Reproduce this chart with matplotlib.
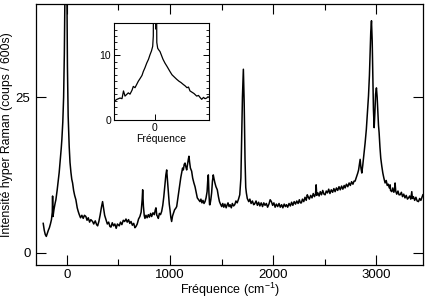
import matplotlib
matplotlib.use("Agg")
import matplotlib.pyplot as plt
from matplotlib.ticker import MultipleLocator

plt.rcParams['font.family'] = ['Liberation Sans', 'DejaVu Sans']
plt.rcParams['mathtext.fontset'] = 'custom'
plt.rcParams['mathtext.rm'] = 'Liberation Sans'

freq = [-230,-220,-210,-200,-190,-180,-170,-160,-150,-142,-139,-135,-125,-115,-107,-95,-85,-75,-65,-55,-49,-40,-32,-25,-20,-15,-10,-5,0,5,12,22,30,39,47,55,65,75,87,100,110,120,132,145,158,170,184,195,207,220,232,249,260,275,288,298,310,322,335,346,355,366,379,392,405,417,427,440,452,465,478,490,508,520,533,547,560,573,585,598,610,622,635,648,660,670,682,695,708,720,730,735,742,750,757,767,778,790,800,812,822,835,848,858,864,872,880,887,897,908,919,930,940,950,960,968,975,985,993,1000,1008,1016,1025,1035,1045,1055,1065,1075,1085,1095,1105,1113,1122,1130,1138,1146,1154,1162,1170,1178,1184,1190,1198,1210,1220,1232,1243,1255,1265,1278,1291,1300,1310,1320,1330,1340,1350,1360,1366,1372,1378,1384,1388,1396,1404,1412,1420,1428,1436,1446,1459,1470,1480,1490,1502,1512,1522,1533,1545,1555,1563,1573,1583,1595,1605,1617,1628,1640,1652,1665,1677,1688,1695,1703,1712,1720,1728,1735,1741,1750,1764,1775,1787,1800,1812,1822,1835,1848,1860,1872,1885,1898,1910,1922,1935,1947,1960,1972,1984,1996,2008,2020,2032,2045,2058,2070,2083,2095,2108,2120,2130,2142,2155,2168,2180,2192,2205,2218,2230,2243,2255,2265,2275,2285,2298,2310,2322,2332,2340,2352,2365,2378,2390,2402,2412,2418,2424,2435,2447,2458,2470,2482,2494,2505,2516,2528,2540,2552,2565,2578,2590,2602,2615,2627,2640,2652,2665,2677,2690,2699,2712,2725,2738,2750,2762,2775,2786,2796,2806,2815,2822,2830,2838,2845,2853,2861,2870,2880,2893,2905,2915,2926,2935,2942,2948,2955,2962,2968,2974,2981,2988,2995,3003,3010,3017,3023,3029,3037,3045,3055,3065,3075,3087,3098,3108,3118,3128,3136,3140,3152,3162,3172,3180,3184,3190,3200,3212,3222,3233,3245,3256,3268,3280,3292,3304,3314,3325,3336,3346,3352,3362,3374,3386,3398,3411,3422,3434,3445,3454]
intensity = [4.7,3.6,2.9,2.6,3.1,3.6,4.0,4.6,5.3,6.5,9.1,5.8,7.0,7.9,8.5,10.0,11.5,12.9,14.8,16.8,18.2,21,25,32,40,55,70,55,42,30,22,17.1,14.5,12.9,11.8,11.2,10.0,9.2,8.5,7.2,6.6,6.1,5.6,6.0,5.5,6.0,5.8,5.2,5.6,4.9,5.3,5.0,4.6,5.1,4.5,4.3,5.0,6.0,7.3,8.2,7.2,6.0,5.3,4.6,4.9,4.2,4.1,4.8,4.3,4.6,3.9,4.6,4.3,4.9,4.5,5.2,5.0,5.4,4.9,5.3,4.7,5.0,4.4,4.7,4.0,4.2,4.6,5.4,5.8,6.5,8.5,10.1,7.5,6.0,5.5,6.0,5.6,6.1,5.7,6.3,5.8,6.4,6.1,6.9,7.2,6.0,5.8,5.5,6.3,6.1,6.6,7.6,9.0,10.8,12.5,13.3,11.8,9.5,7.8,6.9,5.7,5.0,5.9,6.4,6.9,7.1,7.4,8.6,9.8,11.0,12.1,12.8,13.6,13.3,14.2,14.4,13.8,13.3,14.2,15.0,15.5,14.6,13.6,13.1,12.0,11.2,10.6,9.6,8.8,8.5,8.2,8.6,8.0,8.4,7.9,8.2,8.8,9.8,11.5,12.5,9.5,7.7,7.7,8.5,9.6,11.5,12.5,11.8,11.2,10.6,10.1,9.0,8.2,7.8,7.4,7.9,7.3,7.8,7.2,7.7,8.0,7.4,7.7,7.2,7.9,7.5,7.7,8.3,8.0,8.6,9.3,12,18,25,29.5,24,15,10.5,9.6,8.7,8.2,8.6,7.9,8.3,7.7,7.85,8.3,7.6,8.1,7.5,8.0,7.4,8.0,7.6,7.9,7.3,7.8,8.5,8.2,7.6,8.0,7.3,7.8,7.4,7.9,7.3,7.7,7.2,7.8,7.4,7.7,7.3,7.9,7.5,8.1,7.6,8.2,7.8,8.3,7.9,8.5,8.0,8.0,8.6,8.2,8.9,8.4,9.3,9.0,8.6,9.2,8.8,9.5,9.0,9.4,10.9,9.2,9.6,9.1,9.8,9.3,10.0,9.4,9.3,9.9,9.6,10.2,9.5,10.1,9.7,10.3,9.8,10.4,10.0,10.6,10.1,10.7,10.2,10.8,10.4,11.0,10.6,11.2,10.8,11.4,11.0,11.5,11.5,12.0,12.4,12.8,13.3,14.2,15.0,13.6,12.8,14.0,15.6,17.6,19.8,22.3,25.2,28.5,32,35.5,37.3,34,28,23,20.1,22.5,25.5,26.5,25.0,22.5,20.5,19.3,17.0,15.2,13.9,12.8,12.0,11.2,11.6,10.8,11.0,10.4,10.9,10.0,9.8,10.4,9.7,10.2,11.2,9.9,9.4,9.9,9.3,9.3,9.7,9.0,9.4,8.8,9.2,8.6,8.8,9.1,8.6,9.8,8.7,9.0,8.4,8.9,8.3,8.2,8.7,8.4,8.9,9.3]

inset_freq = [-41,-38,-35,-33,-31.5,-30,-28,-26.7,-25,-23,-21.7,-20,-18,-16.7,-15,-13,-11.7,-10,-8.3,-6.5,-5,-3.5,-2.3,-1.7,-1.5,0,1.5,1.8,2.7,4,5,6.5,8,10,12,13.5,15,17,19,21.7,24,26,28.3,30,32,33.5,35,37,39,41.7,43.5,45,46.7,48.5,50,51.7,53,54]
inset_intensity = [2.9,3.2,3.4,3.3,4.5,3.7,4.0,4.2,4.0,4.6,5.2,5.0,5.6,6.0,6.4,6.9,7.5,8.1,8.8,9.4,10.1,10.7,11.4,13,20,40,20,12,11.1,10.8,10.6,10.0,9.4,8.8,8.3,7.9,7.5,7.0,6.7,6.3,6.0,5.8,5.5,5.3,5.0,5.1,4.5,4.3,4.1,3.7,3.8,3.5,3.2,3.5,3.3,3.4,3.6,3.5]

fig = plt.figure(figsize=(4.26, 2.99), dpi=100)
ax = fig.add_axes([0.0845, 0.1137, 0.9085, 0.873])
ax.plot(freq, intensity, color='black', lw=1.1)
ax.set_xlim(-300, 3455)
ax.set_ylim(-2, 40)
ax.set_xticks([0, 1000, 2000, 3000])
ax.xaxis.set_minor_locator(MultipleLocator(500))
ax.set_yticks([0, 25])
ax.tick_params(which='both', direction='in', top=True, right=True, labelsize=9.5, pad=4)
ax.tick_params(axis='x', which='both', pad=3)
ax.tick_params(which='major', length=7, width=0.8)
ax.tick_params(which='minor', length=4, width=0.8)
ax.set_xlabel('Fréquence (cm$^{\\mathregular{-1}}$)', fontsize=9, labelpad=0)
ax.set_ylabel('Intensité hyper Raman (coups / 600s)', fontsize=8.8, labelpad=2)
for s in ax.spines.values():
    s.set_linewidth(0.9)

ins = fig.add_axes([0.2676, 0.5987, 0.223, 0.324])
ins.plot(inset_freq, inset_intensity, color='black', lw=0.9)
ins.set_xlim(-41, 54)
ins.set_ylim(0, 15)
ins.set_xticks([0])
ins.set_yticks([0, 10])
ins.yaxis.set_minor_locator(MultipleLocator(1))
ins.tick_params(which='both', direction='in', top=True, right=True, labelsize=7.5, pad=2)
ins.tick_params(which='major', length=4, width=0.7)
ins.tick_params(which='minor', length=2, width=0.6)
ins.set_xlabel('Fréquence', fontsize=7.5, labelpad=1)
for s in ins.spines.values():
    s.set_linewidth(0.8)

fig.savefig('out.png', dpi=100)
